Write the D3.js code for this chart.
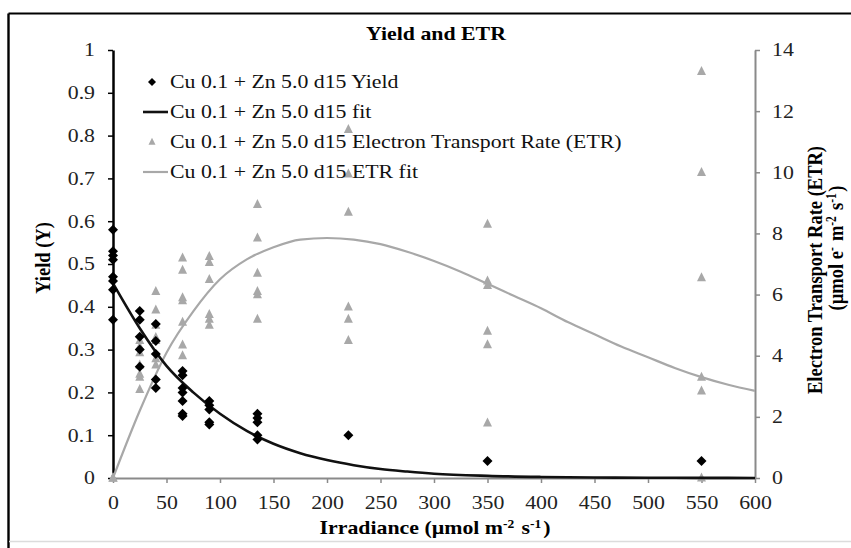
<!DOCTYPE html>
<html>
<head>
<meta charset="utf-8">
<script src="https://cdn.jsdelivr.net/npm/d3@7"></script>
<style>
  html, body { margin: 0; padding: 0; background: #fff; }
  svg { display: block; }
  text { font-family: "Liberation Serif", "Times New Roman", serif; }
</style>
</head>
<body>
<svg id="chart" width="851" height="548"></svg>
<script>
// Measured irradiance levels (µmol m-2 s-1)
const irradiance = [0, 25, 40, 65, 90, 135, 220, 350, 550];

// Effective quantum yield replicates at each irradiance level
const yieldValues = [
  [0.58, 0.53, 0.52, 0.51, 0.47, 0.46, 0.44, 0.37],
  [0.39, 0.37, 0.33, 0.30, 0.26],
  [0.36, 0.32, 0.29, 0.23, 0.21],
  [0.25, 0.24, 0.21, 0.20, 0.18, 0.15, 0.145],
  [0.18, 0.17, 0.16, 0.13, 0.125],
  [0.15, 0.14, 0.13, 0.10, 0.09],
  [0.10],
  [0.04],
  [0.04]
];

// Electron transport rate replicates at each irradiance level
const etrValues = [
  [0, 0, 0],
  [4.5, 4.3, 4.1, 3.7, 3.4, 3.3, 2.9],
  [6.1, 5.5, 5.0, 4.6, 4.5, 3.9, 3.7],
  [7.2, 6.8, 5.9, 5.8, 5.1, 4.35, 4.0],
  [7.25, 7.05, 6.5, 5.35, 5.2, 5.0],
  [8.95, 7.85, 6.7, 6.1, 6.0, 5.2],
  [11.4, 9.95, 8.7, 5.6, 5.2, 4.5],
  [8.3, 6.45, 6.3, 4.8, 4.36, 1.8],
  [13.3, 10.0, 6.55, 3.3, 2.85, 0]
];

// Fitted yield curve
const yieldFitX = [0, 25, 50, 75, 100, 125, 150, 175, 200, 225, 250, 275, 300, 350, 400, 450, 500, 550, 600];
const yieldFitY = [0.455, 0.35, 0.262, 0.2, 0.15, 0.11, 0.08, 0.058, 0.042, 0.03, 0.021, 0.015, 0.01, 0.005, 0.0025, 0.0012, 0.0006, 0.0003, 0.0001];

// Fitted ETR curve
const etrFitX = [0, 25, 50, 75, 100, 125, 150, 175, 200, 225, 250, 275, 300, 325, 350, 375, 400, 425, 450, 475, 500, 525, 550, 575, 600];
const etrFitY = [0, 2.2, 4.1, 5.45, 6.5, 7.15, 7.55, 7.8, 7.85, 7.8, 7.65, 7.4, 7.1, 6.75, 6.35, 5.95, 5.55, 5.1, 4.7, 4.3, 3.95, 3.6, 3.3, 3.05, 2.85];

// Axis ticks
const xTicks = [0, 50, 100, 150, 200, 250, 300, 350, 400, 450, 500, 550, 600];
const yieldTicks = [0, 0.1, 0.2, 0.3, 0.4, 0.5, 0.6, 0.7, 0.8, 0.9, 1];
const etrTicks = [0, 2, 4, 6, 8, 10, 12, 14];

const legendLabels = [
  "Cu 0.1 + Zn 5.0 d15 Yield",
  "Cu 0.1 + Zn 5.0 d15 fit",
  "Cu 0.1 + Zn 5.0 d15 Electron Transport Rate (ETR)",
  "Cu 0.1 + Zn 5.0 d15 ETR fit"
];

const SERIF = '"Liberation Serif", "Times New Roman", serif';
const SX = 1.18;        // horizontal text stretch
const FS = 18.5;        // base font size
const GREY = "#a8a8a8";
const AXIS_GREY = "#8a8a8a";

const svg = d3.select("#chart");

const x = d3.scaleLinear().domain([0, 600]).range([113, 755]);
const yL = d3.scaleLinear().domain([0, 1]).range([478, 50]);
const yR = d3.scaleLinear().domain([0, 14]).range([478, 50]);

// outer frame
svg.append("line").attr("x1", 8.5).attr("y1", 13.5).attr("x2", 851).attr("y2", 13.5)
  .attr("stroke", "#000").attr("stroke-width", 2.2);
svg.append("line").attr("x1", 8.5).attr("y1", 13.5).attr("x2", 8.5).attr("y2", 548)
  .attr("stroke", "#000").attr("stroke-width", 2.4);
svg.append("line").attr("x1", 9).attr("y1", 541.5).attr("x2", 851).attr("y2", 541.5)
  .attr("stroke", "#dcdcdc").attr("stroke-width", 1.5);

// stretch helper for text placed at (tx, ty)
function stretchText(sel) {
  sel.each(function () {
    const t = d3.select(this);
    const tx = +t.attr("x") || 0, ty = +t.attr("y") || 0;
    t.attr("x", 0).attr("y", 0).attr("transform", `translate(${tx},${ty}) scale(${SX},1)`);
  });
}

function styleTicks(g) {
  g.attr("font-family", SERIF);
  g.selectAll("text").attr("font-family", SERIF).attr("font-size", FS).attr("fill", "#222").call(stretchText);
}

// axes
const fmtY = d => d === 0 ? "0" : d === 1 ? "1" : d3.format(".1f")(d);

const gx = svg.append("g").attr("transform", "translate(0,478)")
  .call(d3.axisBottom(x).tickValues(xTicks).tickSize(5).tickPadding(13).tickSizeOuter(0));
gx.select(".domain").attr("stroke", AXIS_GREY).attr("stroke-width", 2);
gx.selectAll(".tick line").attr("stroke", AXIS_GREY).attr("stroke-width", 1.5);
styleTicks(gx);

const gyR = svg.append("g").attr("transform", "translate(755,0)")
  .call(d3.axisRight(yR).tickValues(etrTicks).tickSize(5).tickPadding(12).tickSizeOuter(0));
gyR.select(".domain").attr("stroke", AXIS_GREY).attr("stroke-width", 2);
gyR.selectAll(".tick line").attr("stroke", AXIS_GREY).attr("stroke-width", 1.5);
styleTicks(gyR);

const gyL = svg.append("g").attr("transform", "translate(113,0)")
  .call(d3.axisLeft(yL).tickValues(yieldTicks).tickFormat(fmtY).tickSize(5).tickPadding(13).tickSizeOuter(0));
gyL.select(".domain").attr("stroke", "#000").attr("stroke-width", 2.5);
gyL.selectAll(".tick line").attr("stroke", "#000").attr("stroke-width", 1.5);
styleTicks(gyL);

// flatten replicate points
const yieldPts = [], etrPts = [];
irradiance.forEach((ir, i) => {
  yieldValues[i].forEach(v => yieldPts.push([ir, v]));
  etrValues[i].forEach(v => etrPts.push([ir, v]));
});

const diamond = (s, h) => `M0,${-h}L${s},0L0,${h}L${-s},0Z`;
const triangle = (s, h) => `M0,${-h * 0.6}L${s},${h * 0.4}L${-s},${h * 0.4}Z`;

// ETR fit curve
svg.append("path")
  .datum(etrFitX.map((d, i) => [d, etrFitY[i]]))
  .attr("fill", "none").attr("stroke", GREY).attr("stroke-width", 2.2)
  .attr("d", d3.line().x(d => x(d[0])).y(d => yR(d[1])).curve(d3.curveMonotoneX));

// ETR points
svg.append("g").selectAll("path").data(etrPts).join("path")
  .attr("transform", d => `translate(${x(d[0])},${yR(d[1])})`)
  .attr("d", triangle(4.5, 9)).attr("fill", GREY);

// yield fit curve
svg.append("path")
  .datum(yieldFitX.map((d, i) => [d, yieldFitY[i]]))
  .attr("fill", "none").attr("stroke", "#111").attr("stroke-width", 2.6)
  .attr("d", d3.line().x(d => x(d[0])).y(d => yL(d[1])).curve(d3.curveMonotoneX));

// yield points
svg.append("g").selectAll("path").data(yieldPts).join("path")
  .attr("transform", d => `translate(${x(d[0])},${yL(d[1])})`)
  .attr("d", diamond(5, 5)).attr("fill", "#000");

// title
svg.append("text").attr("x", 436).attr("y", 40).attr("text-anchor", "middle")
  .attr("font-size", FS).attr("font-weight", "bold").text("Yield and ETR").call(stretchText);

// legend
const legRows = [82, 112, 142, 172];
const leg = svg.append("g");
leg.append("path").attr("transform", `translate(152,${legRows[0]})`).attr("d", diamond(4, 4)).attr("fill", "#000");
leg.append("line").attr("x1", 143).attr("x2", 168).attr("y1", legRows[1]).attr("y2", legRows[1])
  .attr("stroke", "#111").attr("stroke-width", 2.6);
leg.append("path").attr("transform", `translate(152,${legRows[2]})`).attr("d", triangle(3.5, 7)).attr("fill", GREY);
leg.append("line").attr("x1", 143).attr("x2", 168).attr("y1", legRows[3]).attr("y2", legRows[3])
  .attr("stroke", GREY).attr("stroke-width", 2.2);
leg.selectAll("text.lab").data(legendLabels).join("text").attr("class", "lab")
  .attr("x", 170).attr("y", (d, i) => legRows[i] + 6)
  .attr("font-size", FS).attr("fill", "#111").text(d => d).call(stretchText);

// axis titles with superscript exponents
function supText(t, parts) {
  parts.forEach(p => {
    if (p.sup) {
      t.append("tspan").attr("font-size", FS * 0.62).attr("dy", -6).text(p.s);
      t.append("tspan").attr("dy", 6).text("\u200A");
    } else {
      t.append("tspan").text(p.s);
    }
  });
}

const xt = svg.append("text").attr("text-anchor", "middle").attr("font-size", FS).attr("font-weight", "bold")
  .attr("transform", `translate(435,534) scale(${SX},1)`);
supText(xt, [{ s: "Irradiance (µmol m" }, { s: "-2", sup: true }, { s: " s" }, { s: "-1", sup: true }, { s: ")" }]);

svg.append("text").attr("text-anchor", "middle").attr("font-size", FS).attr("font-weight", "bold")
  .attr("transform", `translate(50,258) scale(${SX},1) rotate(-90)`).text("Yield (Y)");

svg.append("text").attr("text-anchor", "middle").attr("font-size", FS).attr("font-weight", "bold")
  .attr("transform", `translate(822,270) scale(${SX},1) rotate(-90)`).text("Electron Transport Rate (ETR)");

const rt2 = svg.append("text").attr("text-anchor", "middle").attr("font-size", FS).attr("font-weight", "bold")
  .attr("transform", `translate(843,248) scale(${SX},1) rotate(-90)`);
supText(rt2, [{ s: "(µmol e" }, { s: "-", sup: true }, { s: " m" }, { s: "-2", sup: true }, { s: " s" }, { s: "-1", sup: true }, { s: ")" }]);
</script>
</body>
</html>
